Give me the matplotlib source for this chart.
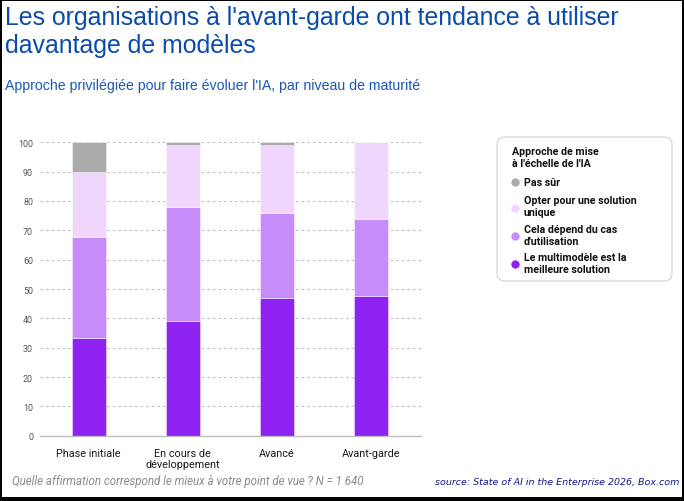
import matplotlib
matplotlib.use("Agg")
import matplotlib.pyplot as plt
from matplotlib.patches import FancyBboxPatch, Rectangle
from matplotlib.lines import Line2D
from matplotlib.transforms import IdentityTransform
import numpy as np

# ---------------- data ----------------
categories = ["Phase initiale", "En cours de\ndéveloppement", "Avancé", "Avant-garde"]
multimodele = [33.2, 39.1, 46.8, 47.7]
cela_depend = [34.5, 38.9, 29.2, 26.2]
solution_unique = [22.1, 21.1, 23.1, 26.1]
pas_sur = [10.2, 0.9, 0.9, 0.0]
series_names = ["Le multimodèle est la\nmeilleure solution",
                "Cela dépend du cas\nd'utilisation",
                "Opter pour une solution\nunique",
                "Pas sûr"]
yticks = [0, 10, 20, 30, 40, 50, 60, 70, 80, 90, 100]

title_line1 = "Les organisations à l'avant-garde ont tendance à utiliser"
title_line2 = "davantage de modèles"
subtitle = "Approche privilégiée pour faire évoluer l'IA, par niveau de maturité"
footnote = "Quelle affirmation correspond le mieux à votre point de vue ? N = 1 640"
source = "source: State of AI in the Enterprise 2026, Box.com"
legend_title = "Approche de mise\nà l'échelle de l'IA"

colors = ["#8E22F0", "#C58CFA", "#F0D6FD", "#ABABAB"]

W, H = 684, 502
fig = plt.figure(figsize=(W / 100, H / 100), dpi=100)
fig.patch.set_facecolor("white")

def fx(x):
    return x / W

def fy(y):
    return 1 - y / H

# ---------------- axes ----------------
ax_l, ax_r, ax_t, ax_b = 40, 421, 143.3, 436.7
ax = fig.add_axes([fx(ax_l), fy(ax_b), (ax_r - ax_l) / W, (ax_b - ax_t) / H])
x = np.arange(len(categories))
series = [multimodele, cela_depend, solution_unique, pas_sur]
bottom = np.zeros(len(categories))
for vals, c in zip(series, colors):
    ax.bar(x, vals, bottom=bottom, width=0.36, color=c, edgecolor=(1, 1, 1, 0.6),
           linewidth=0.5, zorder=3)
    bottom += np.array(vals)

ax.set_xlim(-0.518, 3.535)
ax.set_ylim(0, 100)
ax.set_yticks(yticks)
ax.set_yticklabels([str(t) for t in yticks])
for t in yticks[1:]:
    ax.axhline(t, color="#C4C4C4", linewidth=0.8, linestyle=(0, (2.5, 2.5)), zorder=1)
ax.axhline(0, color="#BDBDBD", linewidth=1.0, zorder=4, clip_on=False)
for s in ax.spines.values():
    s.set_visible(False)
ax.tick_params(axis="y", length=0, pad=5, labelsize=6.4, labelcolor="#555555")
ax.tick_params(axis="x", length=0, pad=8.5, labelsize=7.8, labelcolor="#1A1A1A")
ax.set_xticks(x)
ax.set_xticklabels(categories, fontfamily="Roboto", linespacing=1.15)
for lab in ax.get_yticklabels():
    lab.set_fontfamily("Roboto")

fig.canvas.draw()
renderer = fig.canvas.get_renderer()

def fit(t, target_w):
    bb = t.get_window_extent(renderer)
    t.set_fontsize(t.get_fontsize() * target_w / bb.width)

# ---------------- titles ----------------
blue = "#0B4BAA"
t1 = fig.text(fx(5), fy(25), title_line1, fontsize=16, color=blue,
              fontfamily="Liberation Sans", va="baseline", ha="left")
fit(t1, 618)
t2 = fig.text(fx(5), fy(53), title_line2, fontsize=t1.get_fontsize(), color=blue,
              fontfamily="Liberation Sans", va="baseline", ha="left")
st = fig.text(fx(5), fy(90), subtitle, fontsize=10, color="#1A57B3",
              fontfamily="Liberation Sans", va="baseline", ha="left")
fit(st, 415)

fn = fig.text(fx(11.5), fy(485.5), footnote, fontsize=7.5, color="#8A8A8A",
              fontfamily="Roboto", style="italic", va="baseline", ha="left")
fit(fn, 351)
src = fig.text(fx(679), fy(485), source, fontsize=8, color="#14148A",
               fontfamily="DejaVu Sans", style="italic", va="baseline", ha="right")
fit(src, 244)

# ---------------- legend (manual) ----------------
box = FancyBboxPatch((497, H - 282), 175, 144,
                     boxstyle="round,pad=0,rounding_size=8",
                     transform=IdentityTransform(), facecolor="white",
                     edgecolor="#D2D2D2", linewidth=0.8)
fig.patches.append(box)

# baseline of the LAST line of each (multi-line) text
lt = fig.text(fx(512), fy(167), legend_title, fontsize=7.7, fontweight="bold",
              color="#111111", fontfamily="Roboto", va="baseline", ha="left",
              linespacing=1.2)
leg_fs = 7.7
entries = list(zip(series_names, colors))[::-1]
text_baselines = [186, 216, 245, 273]
marker_y = [183.3, 209, 237, 265]
for (name, c), by, my in zip(entries, text_baselines, marker_y):
    fig.text(fx(523.5), fy(by), name, fontsize=leg_fs, fontweight="bold",
             color="#111111", fontfamily="Roboto", va="baseline", ha="left",
             linespacing=1.2)
    fig.lines.append(Line2D([fx(515)], [fy(my)], marker="o", markersize=6,
                            color=c, markeredgewidth=0, linestyle="none",
                            transform=fig.transFigure))

# ---------------- black frame ----------------
for (x0, y0, w, h) in [(0, 0, W, 2), (0, 0, 2, H), (681.5, 0, 2.5, H), (0, 498, W, 4)]:
    fig.patches.append(Rectangle((x0, H - y0 - h), w, h, transform=IdentityTransform(),
                                 facecolor="black", edgecolor="none"))

fig.savefig("out.png", dpi=100, facecolor="white")
